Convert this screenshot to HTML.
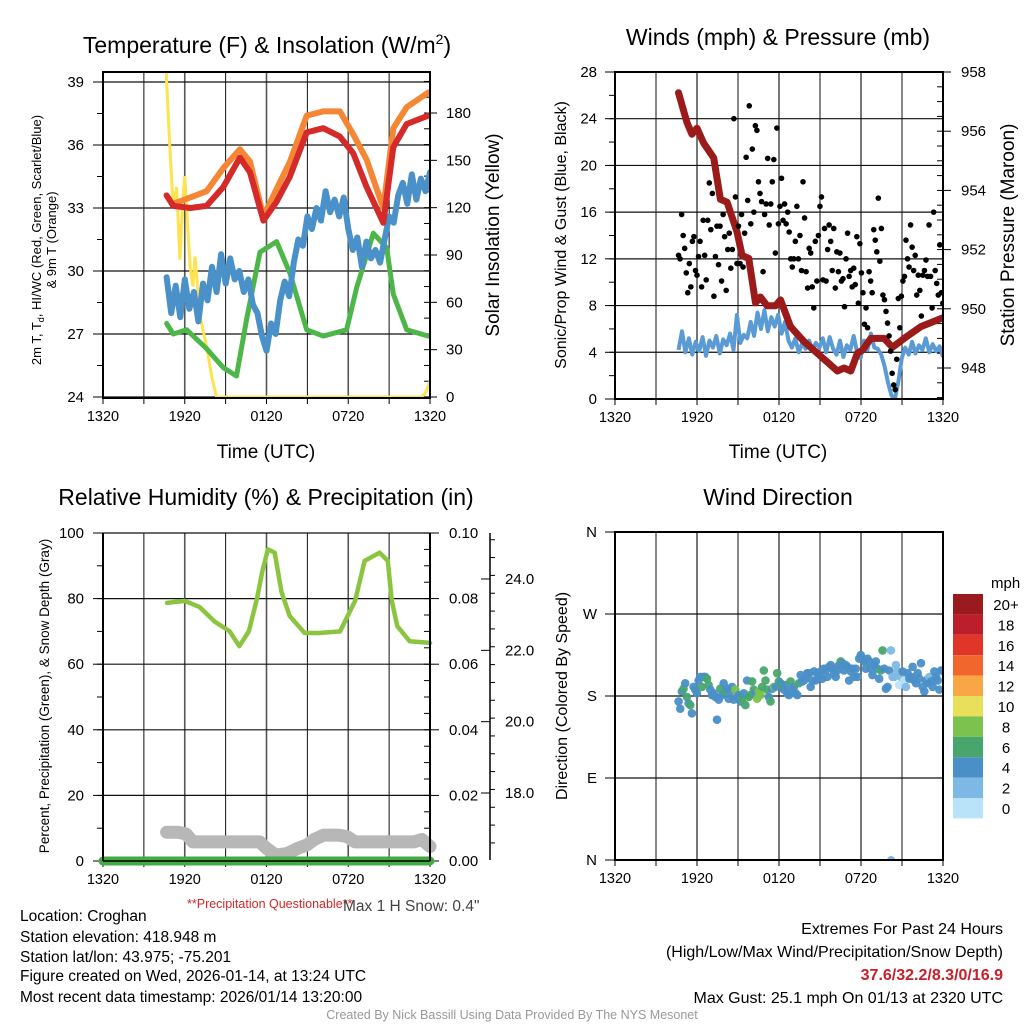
<!DOCTYPE html>
<html><head><meta charset="utf-8">
<style>
html,body{margin:0;padding:0;background:#fff;}
svg{display:block;font-family:"Liberation Sans",Arial,sans-serif;}
</style></head>
<body>
<svg id="chart" width="1024" height="1024" viewBox="0 0 1024 1024" xmlns="http://www.w3.org/2000/svg">
<defs>
<clipPath id="c1"><rect x="103" y="72" width="327" height="326"/></clipPath>
<clipPath id="c2"><rect x="615" y="72" width="328" height="327"/></clipPath>
<clipPath id="c3"><rect x="90" y="533" width="355" height="335"/></clipPath>
<clipPath id="c4"><rect x="615" y="532" width="328" height="328"/></clipPath>
</defs>
<g id="root"></g>
<!-- titles -->
<text x="267" y="53" font-size="23" text-anchor="middle">Temperature (F) &amp; Insolation (W/m<tspan font-size="14" dy="-9">2</tspan><tspan dy="9">)</tspan></text>
<text x="778" y="45" font-size="23" text-anchor="middle">Winds (mph) &amp; Pressure (mb)</text>
<text x="266" y="505" font-size="23" text-anchor="middle">Relative Humidity (%) &amp; Precipitation (in)</text>
<text x="778" y="505" font-size="23" text-anchor="middle">Wind Direction</text>
<!-- axis titles -->
<text x="266" y="458" font-size="19" text-anchor="middle">Time (UTC)</text>
<text x="778" y="458" font-size="19" text-anchor="middle">Time (UTC)</text>
<text transform="translate(41,240) rotate(-90)" font-size="13" text-anchor="middle">2m T, T<tspan font-size="9" dy="3">d</tspan><tspan dy="-3">, HI/WC (Red, Green, Scarlet/Blue)</tspan></text>
<text transform="translate(56,240) rotate(-90)" font-size="13" text-anchor="middle">&amp; 9m T (Orange)</text>
<text transform="translate(499,235) rotate(-90)" font-size="19" text-anchor="middle">Solar Insolation (Yellow)</text>
<text transform="translate(566,235) rotate(-90)" font-size="16" text-anchor="middle">Sonic/Prop Wind &amp; Gust (Blue, Black)</text>
<text transform="translate(1014,235) rotate(-90)" font-size="19" text-anchor="middle">Station Pressure (Maroon)</text>
<text transform="translate(49,696) rotate(-90)" font-size="13.5" text-anchor="middle">Percent, Precipitation (Green), &amp; Snow Depth (Gray)</text>
<text transform="translate(567,696) rotate(-90)" font-size="16" text-anchor="middle">Direction (Colored By Speed)</text>
<!-- footer -->
<g font-size="15.5">
<text x="20" y="921">Location: Croghan</text>
<text x="20" y="942">Station elevation: 418.948 m</text>
<text x="20" y="962">Station lat/lon: 43.975; -75.201</text>
<text x="20" y="981">Figure created on Wed, 2026-01-14, at 13:24 UTC</text>
<text x="20" y="1002">Most recent data timestamp: 2026/01/14 13:20:00</text>
</g>
<text x="187" y="908" font-size="12.5" fill="#d62728">**Precipitation Questionable**</text>
<text x="343" y="911" font-size="15.5" fill="#444">Max 1 H Snow: 0.4"</text>
<g font-size="16" text-anchor="end">
<text x="1003" y="934">Extremes For Past 24 Hours</text>
<text x="1003" y="957">(High/Low/Max Wind/Precipitation/Snow Depth)</text>
<text x="1003" y="980" fill="#c8202a" font-weight="bold">37.6/32.2/8.3/0/16.9</text>
<text x="1003" y="1003">Max Gust: 25.1 mph On 01/13 at 2320 UTC</text>
</g>
<text x="512" y="1019" font-size="12.5" fill="#999" text-anchor="middle">Created By Nick Bassill Using Data Provided By The NYS Mesonet</text>
</svg>
<script>
// ---------- data ----------
const timeLabels = ["1320","1920","0120","0720","1320"];
// Temperature panel (hours since 13:20)
const redT = [4.67,5.16,6.4,7.6,8.83,10.05,10.79,11.77,12.74,13.72,14.95,16.17,17.39,18.37,19.35,20.57,21.31,22.29,23.88];
const redV = [33.6,33.1,33.0,33.1,34.0,35.4,34.7,32.4,33.3,34.5,36.6,36.8,36.4,35.6,34.0,32.3,35.9,37.0,37.4];
const orangeT = [5.16,6.4,7.6,8.83,10.05,10.79,11.77,12.74,13.72,14.95,16.17,17.39,18.37,19.35,20.57,21.31,22.29,23.88];
const orangeV = [33.2,33.5,33.8,34.9,35.8,35.2,32.6,33.9,35.2,37.4,37.6,37.6,36.5,35.3,33.0,36.8,37.8,38.5];
const greenT = [4.67,5.16,6.14,6.63,7.6,8.83,9.8,10.54,11.52,12.74,13.72,14.95,16.17,17.88,18.61,19.84,20.82,21.31,22.29,23.88];
const greenV = [27.5,27.0,27.2,26.9,26.3,25.4,25.0,27.7,30.9,31.4,29.9,27.2,26.9,27.2,29.2,31.8,31.1,28.9,27.2,26.9];
const blueTStart = 4.67, blueTEnd = 24;
const blueV = [29.7,28.0,29.3,27.8,29.6,28.2,29.0,27.6,29.4,28.6,30.2,29.0,30.8,29.4,30.6,29.6,30.0,29.0,29.6,28.4,28.0,26.9,26.2,27.5,27.0,28.6,29.5,28.8,30.4,31.5,31.2,32.6,32.0,33.0,32.4,33.8,32.8,33.4,32.6,33.5,32.0,31.0,31.6,30.2,31.4,30.6,31.0,30.4,31.5,32.6,32.3,33.6,34.2,33.2,34.6,33.4,34.4,33.8,34.7];
const solarT = [4.6,4.67,4.91,5.15,5.4,5.65,5.85,6.0,6.2,6.4,6.6,6.75,7.13,7.6,8.0,8.34,23.4,23.7,24];
const solarV = [215,200,157,120,133,87,125,140,110,82,70,89,51,32,12,0,0,3,10];
// Winds panel
const presT = [4.65,5.26,5.63,6.0,6.48,7.22,7.71,8.2,8.93,9.3,9.79,10.28,10.64,11.13,11.74,12.11,12.84,13.82,15.05,16.27,16.76,17.25,17.74,18.1,18.72,19.69,20.3,21.16,22.38,24.0];
const presV = [957.3,956.3,955.9,956.1,955.6,955.1,953.7,953.6,952.6,951.8,951.7,950.2,950.4,950.1,950.1,950.3,949.4,948.9,948.4,947.9,948.0,947.9,948.5,948.6,949.0,949.0,948.7,949.0,949.4,949.7];
const windTStart = 4.65, windTEnd = 24;
const windV = [4.2,5.8,4.0,5.2,3.8,4.9,4.1,5.3,3.7,5.0,4.4,5.4,3.9,5.1,4.6,5.6,4.2,7.2,4.8,5.5,5.2,6.6,5.4,7.4,6.0,7.6,5.8,7.0,6.2,7.2,5.6,6.6,5.0,4.4,5.2,4.0,4.8,4.3,5.0,4.2,4.8,4.4,5.2,4.0,5.3,4.3,3.8,5.0,3.6,4.6,4.2,5.4,4.0,3.5,5.0,4.2,5.6,4.4,4.3,3.8,2.8,1.4,0.3,0.0,1.5,3.5,4.4,3.8,4.9,3.9,4.6,4.2,5.2,4.0,4.7,4.1,4.5,3.6];
const gustTStart = 4.65, gustTEnd = 23.99;
const gustV = [12.3,12.0,15.8,14.0,12.9,10.8,9.1,11.6,9.6,13.5,13.9,11.0,10.6,12.2,13.5,9.6,15.3,12.3,10.2,15.3,18.5,14.5,17.6,8.8,12.2,14.8,11.5,14.8,10.1,15.8,13.9,9.3,12.8,14.2,11.2,12.8,24.0,17.3,11.6,14.8,11.6,15.8,11.3,14.2,20.7,17.0,25.1,15.0,21.4,16.0,23.4,23.0,18.6,17.6,16.9,10.9,15.8,16.7,20.6,14.9,16.7,18.6,20.5,12.5,23.2,15.0,16.5,18.9,15.3,16.7,15.0,16.0,14.3,12.0,11.3,12.0,13.5,16.5,12.0,14.0,11.0,18.6,15.5,10.9,9.5,12.9,12.5,9.6,7.8,13.5,10.1,14.0,16.5,17.3,10.2,14.6,10.1,12.8,14.9,13.5,11.0,14.6,9.5,12.6,10.9,12.5,10.1,10.3,7.9,12.0,14.2,10.5,11.0,9.6,11.2,9.8,13.9,8.2,13.3,10.8,9.1,6.4,7.8,6.1,10.9,10.1,9.1,14.5,13.6,12.6,17.2,11.8,14.6,8.9,8.5,7.5,6.5,5.4,4.1,2.2,1.2,0.8,3.4,8.6,6.1,8.8,10.1,10.5,13.6,12.0,11.3,14.9,13.0,11.0,12.3,8.9,10.6,9.3,7.1,10.6,11.0,11.9,10.5,14.9,10.5,7.8,16.0,11.0,9.9,8.9,13.2,9.1,8.2];
// Humidity panel
const rhT = [4.7,6.0,7.1,8.2,9.3,10.0,10.7,11.3,11.7,12.1,12.6,13.1,13.7,14.8,15.9,17.4,18.5,19.2,20.3,20.9,21.2,21.6,22.5,24.0];
const rhV = [78.7,79.3,77.4,73,70,65.5,70,80,88.4,95,94,82,74.7,69.5,69.5,70,79.3,91.5,94,91.5,79.3,71.6,67,66.5];
const precipT = [0,24];
const precipV = [0,0];
const snowT = [4.67,5.5,6.1,6.6,11.5,12.0,12.7,13.5,14.3,15.0,15.5,16.2,17.2,17.9,18.5,22.8,23.4,24];
const snowV = [16.9,16.9,16.85,16.63,16.63,16.45,16.26,16.3,16.45,16.55,16.7,16.82,16.82,16.78,16.63,16.63,16.7,16.5];
// Wind direction panel
const dirTStart = 4.65, dirTEnd = 23.98;
const dirV = [174,166,185,188,194,179,172,170,161,190,187,183,197,201,190,201,201,199,192,187,181,183,179,154,176,188,181,194,185,188,177,185,190,176,187,179,181,174,177,183,170,197,179,181,196,187,183,177,185,181,190,208,197,187,179,174,188,190,190,205,196,194,190,187,192,183,181,196,187,190,183,181,194,203,196,197,199,205,205,190,197,207,197,205,201,207,199,210,208,201,212,214,210,205,201,208,214,218,216,208,214,212,197,207,210,201,210,201,221,225,220,218,210,221,218,210,203,214,218,210,199,208,230,210,188,190,208,230,201,201,214,207,192,201,207,197,190,205,199,201,212,197,194,205,199,216,190,185,197,194,201,196,190,207,201,197,187,208,208];
const dirSpd = [5,5,5,7,5,7,5,7,5,5,5,5,5,5,7,5,5,7,7,5,5,5,5,5,5,7,5,5,7,5,5,5,5,5,9,5,5,5,7,5,7,5,7,7,7,7,5,9,9,9,7,7,7,7,5,7,5,9,5,7,7,5,7,5,5,5,5,7,5,5,5,5,7,5,5,5,5,5,5,5,5,5,5,5,5,5,5,5,5,5,5,5,5,5,5,5,5,7,5,5,5,5,5,5,5,5,5,5,5,5,5,5,5,5,5,5,5,5,5,5,5,7,7,5,5,5,5,3,3,3,3,3,1,3,5,1,3,5,5,5,5,5,5,5,5,5,5,5,5,5,3,5,5,5,5,5,5,5,5,5,5,5,5,5,5];
const calmT = [20.2];
const calmDir = [0];
const legendLabels = ["20+","18","16","14","12","10","8","6","4","2","0"];
const legendColors = ["#9a1b1e","#bd1e2c","#e0362a","#f1662c","#f9a746","#e8e05a","#7bc24e","#48a66c","#4a8fc7","#7eb9e5","#b9e3f9"];

// ---------- drawing ----------
const NS="http://www.w3.org/2000/svg";
const root=document.getElementById('root');
function mk(tag,attrs,parent){const e=document.createElementNS(NS,tag);for(const k in attrs)e.setAttribute(k,attrs[k]);(parent||root).appendChild(e);return e;}
function uniform(a,b,n){const r=[];for(let i=0;i<n;i++)r.push(a+(b-a)*i/(n-1));return r;}
function pathD(ts,vs,xf,yf){return ts.map((t,i)=>(i?'L':'M')+xf(t).toFixed(1)+','+yf(vs[i]).toFixed(1)).join('');}

function panelFrame(name,x0,x1,y0,y1){
  const g=mk('g',{});
  
  
  const xf=t=>x0+(x1-x0)*t/24;
  for(let h=3;h<24;h+=3){
    const l=mk('line',{x1:xf(h),x2:xf(h),y1:y0,y2:y1,stroke:(h%6===0)?'#555':'#111','stroke-width':(h%6===0)?1.6:1},g);
    
    
  }
  for(let h=0;h<=24;h+=3){
    const l=mk('line',{x1:xf(h),x2:xf(h),y1:y1,y2:y1+6,stroke:'#000','stroke-width':1},g);
    
    
  }
  timeLabels.forEach((s,i)=>{
    const t=mk('text',{x:xf(i*6),y:y1+23,'font-size':14.5,'text-anchor':'middle'},g);
    t.textContent=s;
    
    
  });
  return {g,xf};
}
function border(x0,x1,y0,y1,name){
  const r=mk('rect',{x:x0,y:y0,width:x1-x0,height:y1-y0,fill:'none',stroke:'#000','stroke-width':2});
  
  
}
function hgrid(x0,x1,ys){ys.forEach(y=>{const l=mk('line',{x1:x0,x2:x1,y1:y,y2:y,stroke:'#111','stroke-width':1.2});});}
function yticks(x,vals,yf,labels,side,len,fs,lx,anchor){
  vals.forEach((v,i)=>{
    const y=yf(v);
    const l=mk('line',{x1:x,x2:x+(side==='left'?-len:len),y1:y,y2:y,stroke:'#000','stroke-width':1});
    
    
    if(labels){const t=mk('text',{x:lx,y:y+5,'font-size':fs,'text-anchor':anchor||(side==='left'?'end':'start')});t.textContent=labels[i];}
  });
}
function range(a,b,s){const r=[];for(let v=a;v<=b+1e-9;v+=s)r.push(+v.toFixed(4));return r;}

// ===== Panel 1 =====
(function(){
  const x0=103,x1=430,y0=72,y1=398;
  const {xf}=panelFrame('temperature',x0,x1,y0,y1);
  const yT=v=>397-(v-24)*21;
  const yS=s=>397-s*1.5778;
  const tv=range(24,39,3);
  hgrid(x0,x1,tv.map(yT));
  yticks(x0,range(24,39,1.5),yT,null,'left',6);
  yticks(x0,tv,yT,tv.map(String),'left',10,15,84);
  yticks(x1,range(0,200,10),yS,null,'left',6);
  const sv=range(0,180,30);
  yticks(x1,sv,yS,sv.map(String),'right',7,15,446);
  const g=mk('g',{'clip-path':'url(#c1)'});
  
  
  const s1=mk('path',{d:pathD(solarT,solarV,xf,yS),fill:'none',stroke:'#fde34d','stroke-width':3},g);
  
  const s2=mk('path',{d:pathD(greenT,greenV,xf,yT),fill:'none',stroke:'#4cb748','stroke-width':5,'stroke-linejoin':'round','stroke-linecap':'round'},g);
  
  const bT=uniform(blueTStart,blueTEnd,blueV.length);
  const s3=mk('path',{d:pathD(bT,blueV,xf,yT),fill:'none',stroke:'#4a90c9','stroke-width':6,'stroke-linejoin':'round','stroke-linecap':'round'},g);
  
  const s4=mk('path',{d:pathD(orangeT,orangeV,xf,yT),fill:'none',stroke:'#f58634','stroke-width':6,'stroke-linejoin':'round','stroke-linecap':'round'},g);
  
  const s5=mk('path',{d:pathD(redT,redV,xf,yT),fill:'none',stroke:'#d42a2a','stroke-width':6,'stroke-linejoin':'round','stroke-linecap':'round'},g);
  
  border(x0,x1,y0,y1,'temperature');
})();

// ===== Panel 2 =====
(function(){
  const x0=615,x1=943,y0=72,y1=399;
  const {xf}=panelFrame('winds',x0,x1,y0,y1);
  const yW=v=>399-v*11.679;
  const yP=p=>72+(958-p)*29.6;
  const wv=range(0,28,4);
  hgrid(x0,x1,wv.map(yW));
  yticks(x0,range(0,28,2),yW,null,'left',6);
  yticks(x0,wv,yW,wv.map(String),'left',10,15,597);
  yticks(x1,range(947,958,0.5),yP,null,'left',6);
  const pv=range(948,958,2);
  yticks(x1,pv,yP,pv.map(String),'right',8,15,961);
  const g=mk('g',{'clip-path':'url(#c2)'});
  
  
  const wT=uniform(windTStart,windTEnd,windV.length);
  const w=mk('path',{d:pathD(wT,windV,xf,yW),fill:'none',stroke:'#5b9bd5','stroke-width':4,'stroke-linejoin':'round'},g);
  
  const pr=mk('path',{d:pathD(presT,presV,xf,yP),fill:'none',stroke:'#9b1b1b','stroke-width':7,'stroke-linejoin':'round','stroke-linecap':'round'},g);
  
  const gT=uniform(gustTStart,gustTEnd,gustV.length);
  gustV.forEach((v,i)=>{
    const c=mk('circle',{cx:xf(gT[i]),cy:yW(v),r:2.8,fill:'#000'},g);
    
    
  });
  border(x0,x1,y0,y1,'winds');
})();

// ===== Panel 3 =====
(function(){
  const x0=103,x1=430,y0=533,y1=861;
  const {xf}=panelFrame('humidity',x0,x1,y0,y1);
  const yR=v=>861-v*3.28;
  const yPr=p=>861-p*3280;
  const yS=s=>793-(s-18)*35.67;
  const rv=range(0,100,20);
  hgrid(x0,x1,rv.map(yR).slice(1));
  yticks(x0,range(0,100,10),yR,null,'left',6);
  yticks(x0,rv,yR,rv.map(String),'left',10,15,84);
  yticks(x1,range(0,0.1,0.005),yPr,null,'left',6);
  const pv=range(0,0.1,0.02);
  yticks(x1,pv,yPr,pv.map(v=>v.toFixed(2)),'right',9,15,449);
  const ax=mk('line',{x1:490,x2:490,y1:533,y2:860,stroke:'#000','stroke-width':1.5});
  
  yticks(490,range(16.1,25.1,0.5).filter(v=>yS(v)>=533&&yS(v)<=860),yS,null,'right',5);
  const sv=[18,20,22,24];
  yticks(490,sv,yS,sv.map(v=>v.toFixed(1)),'left',9,15,505,'start');
  const g=mk('g',{'clip-path':'url(#c3)'});
  
  
  const sn=mk('path',{d:pathD(snowT,snowV,xf,yS),fill:'none',stroke:'#b7b7b7','stroke-width':13,'stroke-linejoin':'round','stroke-linecap':'round'},g);
  
  const pp=mk('path',{d:pathD(precipT,precipV,xf,yPr),fill:'none',stroke:'#44aa44','stroke-width':9,'stroke-linecap':'round'},g);
  
  const rh=mk('path',{d:pathD(rhT,rhV,xf,yR),fill:'none',stroke:'#8bc540','stroke-width':4.5,'stroke-linejoin':'round','stroke-linecap':'round'},g);
  
  const bl=mk('line',{x1:x0,x2:x1,y1:y1,y2:y1,stroke:'#000','stroke-width':1.5});
  
  const l1=mk('line',{x1:x0,x2:x0,y1:y0,y2:y1,stroke:'#000','stroke-width':2});
  
  const l2=mk('line',{x1:x1,x2:x1,y1:y0,y2:y1,stroke:'#000','stroke-width':2});
  
})();

// ===== Panel 4 =====
(function(){
  const x0=615,x1=943,y0=532,y1=860;
  const {xf}=panelFrame('direction',x0,x1,y0,y1);
  const yD=d=>860-d*328/360;
  const dv=[0,90,180,270,360];
  const dl=['N','E','S','W','N'];
  hgrid(x0,x1,dv.map(yD).slice(1,4));
  yticks(x0,dv,yD,dl,'left',10,15,597);
  const g=mk('g',{'clip-path':'url(#c4)'});
  
  
  const colorFor=s=>legendColors[10-Math.min(10,Math.floor(s/2))];
  const dT=uniform(dirTStart,dirTEnd,dirV.length);
  dirV.forEach((d,i)=>{
    const c=mk('circle',{cx:xf(dT[i]),cy:yD(d),r:4.3,fill:colorFor(dirSpd[i]),'fill-opacity':0.95},g);
    
    
  });
  calmT.forEach((t,i)=>{
    const c=mk('circle',{cx:xf(t),cy:yD(calmDir[i]),r:4,fill:legendColors[9]},g);
    
    
  });
  border(x0,x1,y0,y1,'direction');
  const lg=mk('g',{});
  
  
  const ht=mk('text',{x:991,y:588,'font-size':15},lg);
  ht.textContent='mph';
  
  
  legendLabels.forEach((s,i)=>{
    const y=594+i*20.4;
    const r=mk('rect',{x:953,y:y,width:30,height:20.4,fill:legendColors[i]},lg);
    
    
    const t=mk('text',{x:1006,y:y+16,'font-size':15,'text-anchor':'middle'},lg);
    t.textContent=s;
    
    
  });
})();
</script>
</body></html>
